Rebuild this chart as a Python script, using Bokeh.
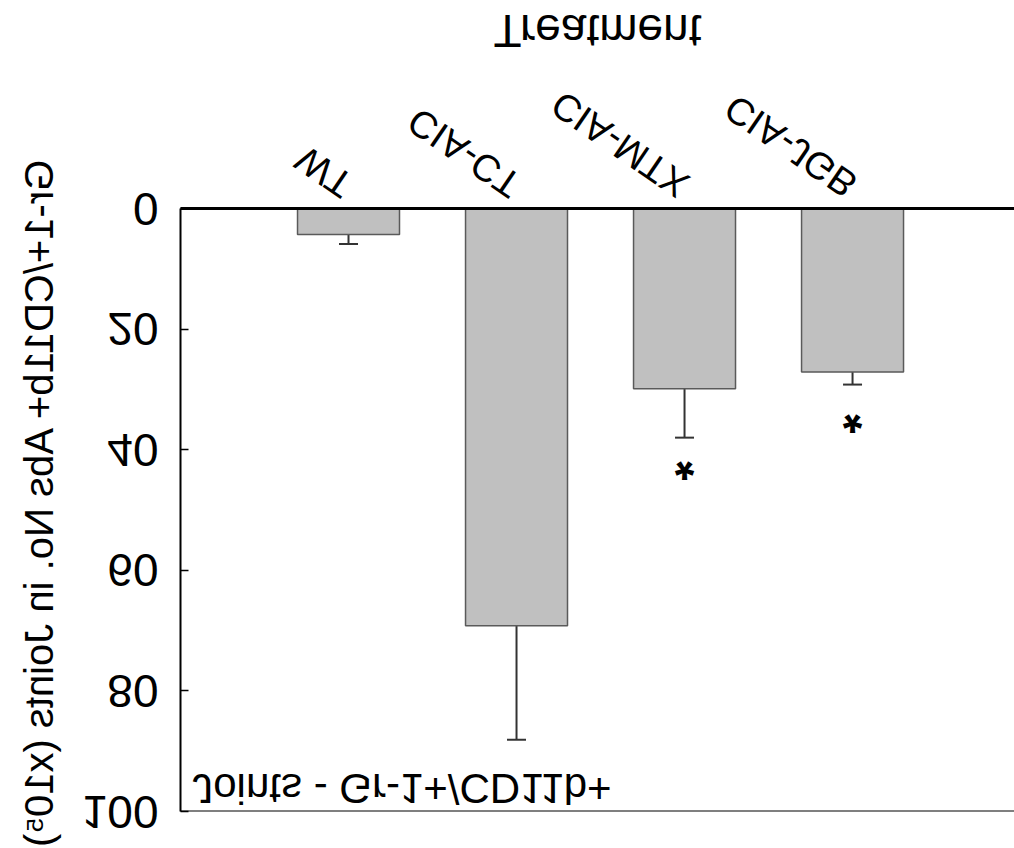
from bokeh.plotting import figure
from bokeh.models import Range1d, FixedTicker, Span, Whisker, ColumnDataSource, TeeHead
from bokeh.core.properties import value
from bokeh.embed import file_html
from bokeh.resources import INLINE

# ---- data ----
categories = ["WT", "CIA-CT", "CIA-MTX", "CIA-JGB"]
cat_pos = [1, 2, 3, 4]
means = [4.3, 69.2, 29.9, 27.1]
errors = [1.6, 18.9, 8.1, 2.1]
star_cats = [3, 4]
star_y = [44.1, 36.2]
y_ticks = [0, 20, 40, 60, 80, 100]
annotation = "Joints - Gr-1+/CD11b+"
x_title = "Treatment"
y_title = "Gr-1+/CD11b+  Abs No. in Joints (x10\u2075)"

FONT = "Liberation Sans"

upper = [m + e for m, e in zip(means, errors)]
src = ColumnDataSource(dict(x=cat_pos, top=means, upper=upper))

p = figure(width=1014, height=848,
           x_range=Range1d(0, 4.964), y_range=Range1d(0, 100),
           output_backend="svg", toolbar_location=None,
           min_border_left=180, min_border_right=0,
           min_border_top=36, min_border_bottom=209)
p.outline_line_color = None
p.xgrid.grid_line_color = None
p.ygrid.grid_line_color = None
p.background_fill_color = "white"
p.border_fill_color = "white"

p.vbar(x="x", top="top", width=0.607, source=src,
       fill_color="#c0c0c0", line_color="#5a5a5a", line_width=1.5)

w = Whisker(base="x", lower="top", upper="upper", source=src,
            line_color="#333333", line_width=2,
            upper_head=TeeHead(size=19, line_color="#333333", line_width=2),
            lower_head=None)
p.add_layout(w)

p.text(x=star_cats, y=star_y, text=["*", "*"], text_align="center",
       text_baseline="middle", text_font=value(FONT), text_font_size="50px",
       text_font_style="bold", text_color="black", y_offset=12)

p.text(x=[0.07], y=[96.2], text=[annotation], text_align="left",
       text_baseline="middle", text_font=value(FONT), text_font_size="42px",
       text_color="black")

p.add_layout(Span(location=100, dimension="width", line_color="black", line_width=2))

# x axis
xa = p.xaxis[0]
xa.ticker = FixedTicker(ticks=cat_pos)
xa.major_label_overrides = {c: n for c, n in zip(cat_pos, categories)}
xa.major_label_orientation = 0.6
xa.major_label_text_font = FONT
xa.major_label_text_font_size = "38px"
xa.major_label_text_color = "black"
xa.major_label_standoff = 14
xa.major_tick_line_color = None
xa.minor_tick_line_color = None
xa.axis_line_width = 3
xa.axis_line_color = "black"
xa.axis_label = x_title
xa.axis_label_text_font = FONT
xa.axis_label_text_font_size = "46px"
xa.axis_label_text_font_style = "normal"
xa.axis_label_text_color = "black"
xa.axis_label_standoff = 6

# y axis
ya = p.yaxis[0]
ya.ticker = FixedTicker(ticks=y_ticks)
ya.major_label_text_font = FONT
ya.major_label_text_font_size = "46px"
ya.major_label_text_color = "black"
ya.major_label_standoff = 22
ya.major_tick_in = 8
ya.major_tick_out = 0
ya.major_tick_line_width = 1.5
ya.minor_tick_line_color = None
ya.axis_line_width = 2
ya.axis_line_color = "black"
ya.axis_label = y_title
ya.axis_label_text_font = FONT
ya.axis_label_text_font_size = "40px"
ya.axis_label_text_font_style = "normal"
ya.axis_label_text_color = "black"
ya.axis_label_standoff = 18

# the reference is mirrored top-to-bottom
p.styles = {"transform": "scaleY(-1)"}

open("out.html", "w").write(file_html(p, INLINE))
